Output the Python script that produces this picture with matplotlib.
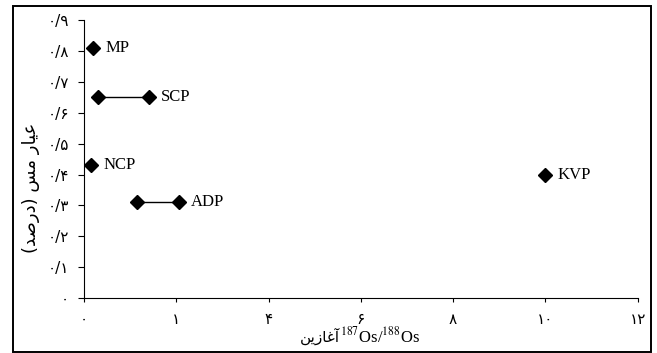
import matplotlib.pyplot as plt
from matplotlib.patches import Rectangle

# samples: initial 187Os/188Os range and copper grade (%)
names = ['MP', 'SCP', 'NCP', 'ADP', 'KVP']
os_low = [0.2, 0.3, 0.15, 1.15, 10.0]
os_high = [0.2, 1.4, 0.15, 2.05, 10.0]
cu_grade = [0.81, 0.65, 0.43, 0.31, 0.40]

x_ticks = [0, 2, 4, 6, 8, 10, 12]
x_ticklabels = ['۰', '۱', '۴', '۶', '۸', '۱۰', '۱۲']
y_ticks = [0, 0.1, 0.2, 0.3, 0.4, 0.5, 0.6, 0.7, 0.8, 0.9]
y_ticklabels = ['۰', '۰/۱', '۰/۲', '۰/۳', '۰/۴', '۰/۵', '۰/۶', '۰/۷', '۰/۸', '۰/۹']

# Persian strings written out in presentation forms, visual order
ylabel_fa = '(\uFEAA\uFEBB\uFEAD\uFEA9) \uFEB2\uFEE3 \uFEAD\uFE8E\uFEF4\uFECB'
xlabel_fa = '\uFEE6\uFEF3\uFEAF\uFE8E\uFECF\uFE81'

plt.rcParams['font.family'] = ['Liberation Serif', 'DejaVu Sans']
plt.rcParams['mathtext.fontset'] = 'stix'

fig = plt.figure(figsize=(6.57, 3.53), dpi=100)
ax = fig.add_axes([0.1279, 0.1558, 0.9706 - 0.1279, 0.9428 - 0.1558])

for name, x0, x1, y in zip(names, os_low, os_high, cu_grade):
    if x1 != x0:
        ax.plot([x0, x1], [y, y], color='black', lw=1.0, marker='D', ms=7,
                mfc='black', mec='black', clip_on=False)
    else:
        ax.plot([x0], [y], color='black', marker='D', ms=7, ls='none',
                clip_on=False)
    ax.annotate(name, (x1, y), xytext=(9, 0), textcoords='offset points',
                va='center', ha='left', fontsize=12, family='Liberation Serif')

ax.set_xlim(0, 12)
ax.set_ylim(0, 0.9)
ax.set_xticks(x_ticks)
ax.set_xticklabels(x_ticklabels, family='DejaVu Sans', fontsize=11)
ax.set_yticks(y_ticks)
ax.set_yticklabels(y_ticklabels, family='DejaVu Sans', fontsize=11)
ax.tick_params(axis='x', direction='out', length=3, width=0.8, pad=7)
ax.tick_params(axis='y', direction='out', length=4, width=0.8, pad=7)

for side in ['top', 'right']:
    ax.spines[side].set_visible(False)
for side in ['left', 'bottom']:
    ax.spines[side].set_linewidth(0.8)

# axis titles
fig.text(31 / 657, 0.467, ylabel_fa, rotation=90, ha='center', va='center',
         family='DejaVu Sans', fontsize=13)
fig.text(340 / 657, 11 / 353, xlabel_fa, ha='right', va='baseline',
         family='DejaVu Sans', fontsize=11)
fig.text(340 / 657, 11 / 353, r'$^{187}$Os/$^{188}$Os', ha='left', va='baseline',
         family='Liberation Serif', fontsize=12)

# outer frame
fig.patches.append(Rectangle((13 / 657, 1 / 353), (651 - 13) / 657, (347 - 1) / 353,
                             transform=fig.transFigure, fill=False,
                             edgecolor='black', lw=1.4))

fig.savefig('out.png', dpi=100)
